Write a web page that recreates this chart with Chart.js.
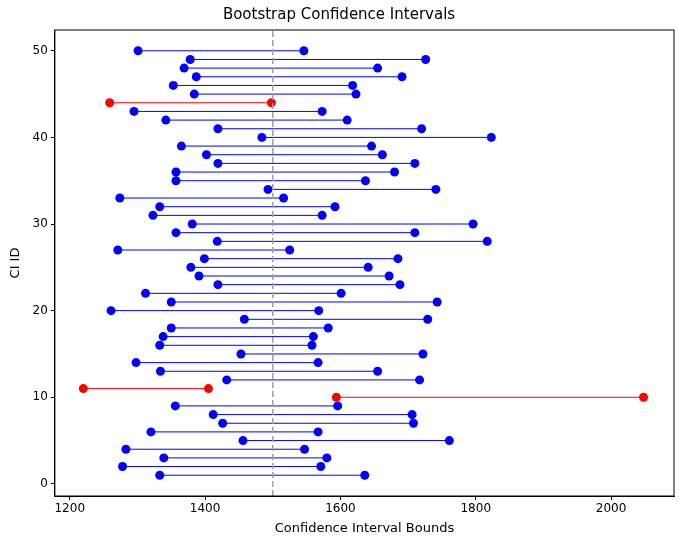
<!DOCTYPE html>
<html>
<head>
<meta charset="utf-8">
<script src="https://cdn.jsdelivr.net/npm/chart.js@4"></script>
<style>
  body { margin: 0; background: #fff; }
  #wrap { width: 681px; height: 542px; }
</style>
</head>
<body>
<div id="wrap"><canvas id="chart"></canvas></div>
<script>
// CI bounds, ID 1..50
const lowerBounds = [1333, 1278, 1339, 1283, 1456, 1320, 1426, 1412, 1356, 1594,
  1220, 1432, 1334, 1298, 1453, 1333, 1338, 1350, 1458, 1261,
  1350, 1312, 1419, 1391, 1379, 1399, 1271, 1418, 1357, 1381,
  1323, 1333, 1274, 1493, 1357, 1357, 1419, 1402, 1365, 1484,
  1419, 1342, 1295, 1259, 1384, 1353, 1387, 1369, 1378, 1301];
const upperBounds = [1636, 1571, 1580, 1547, 1761, 1567, 1708, 1706, 1596, 2048,
  1405, 1717, 1655, 1567, 1722, 1558, 1560, 1582, 1729, 1568,
  1743, 1601, 1688, 1672, 1641, 1685, 1525, 1817, 1710, 1796,
  1573, 1592, 1516, 1741, 1637, 1680, 1710, 1662, 1646, 1823,
  1720, 1610, 1573, 1498, 1623, 1618, 1691, 1655, 1726, 1546];
const trueValue = 1500;

const datasets = lowerBounds.map((lo, i) => {
  const hi = upperBounds[i];
  const miss = lo > trueValue || hi < trueValue;
  const c = miss ? '#ff0000' : '#0000ff';
  return {
    data: [{ x: lo, y: i + 1 }, { x: hi, y: i + 1 }],
    borderColor: c, backgroundColor: c, pointBackgroundColor: c,
    borderWidth: 1, pointRadius: 4.5, pointBorderWidth: 0
  };
});
datasets.unshift({
  data: [{ x: trueValue, y: -1.4 }, { x: trueValue, y: 52.4 }],
  borderColor: '#a0a0a0', borderWidth: 1.5, borderDash: [6, 3], pointRadius: 0
});

const frame = {
  id: 'frame',
  afterDraw(chart) {
    const { ctx, chartArea: a } = chart;
    ctx.save();
    ctx.strokeStyle = '#000';
    ctx.lineWidth = 1;
    ctx.strokeRect(a.left, a.top, a.right - a.left, a.bottom - a.top);
    ctx.restore();
  }
};

const font = { family: 'DejaVu Sans', size: 12 };
new Chart(document.getElementById('chart'), {
  type: 'line',
  data: { datasets },
  plugins: [frame],
  options: {
    animation: false,
    responsive: true,
    maintainAspectRatio: false,
    layout: { padding: { top: 0, right: 7, left: 4, bottom: 4 } },
    plugins: {
      legend: { display: false },
      tooltip: { enabled: false },
      title: { display: true, text: 'Bootstrap Confidence Intervals', color: '#000',
        font: { family: 'DejaVu Sans', size: 15, weight: 'normal' }, padding: { top: 6, bottom: 6 } }
    },
    scales: {
      x: {
        type: 'linear', min: 1178, max: 2093,
        afterBuildTicks: s => { s.ticks = [1200, 1400, 1600, 1800, 2000].map(v => ({ value: v })); },
        grid: { drawOnChartArea: false, drawTicks: true, tickLength: 4, color: '#000' },
        border: { color: '#000' },
        ticks: { color: '#000', font, padding: 2, maxRotation: 0, callback: v => String(v) },
        title: { display: true, text: 'Confidence Interval Bounds', color: '#000',
          font: { family: 'DejaVu Sans', size: 13 }, padding: { top: 2, bottom: 2 } }
      },
      y: {
        type: 'linear', min: -1.4, max: 52.4,
        afterBuildTicks: s => { s.ticks = [0, 10, 20, 30, 40, 50].map(v => ({ value: v })); },
        grid: { drawOnChartArea: false, drawTicks: true, tickLength: 4, color: '#000' },
        border: { color: '#000' },
        ticks: { color: '#000', font, padding: 3, callback: v => String(v) },
        title: { display: true, text: 'CI ID', color: '#000',
          font: { family: 'DejaVu Sans', size: 13 }, padding: { top: 4, bottom: 6 } }
      }
    }
  }
});
</script>
</body>
</html>
